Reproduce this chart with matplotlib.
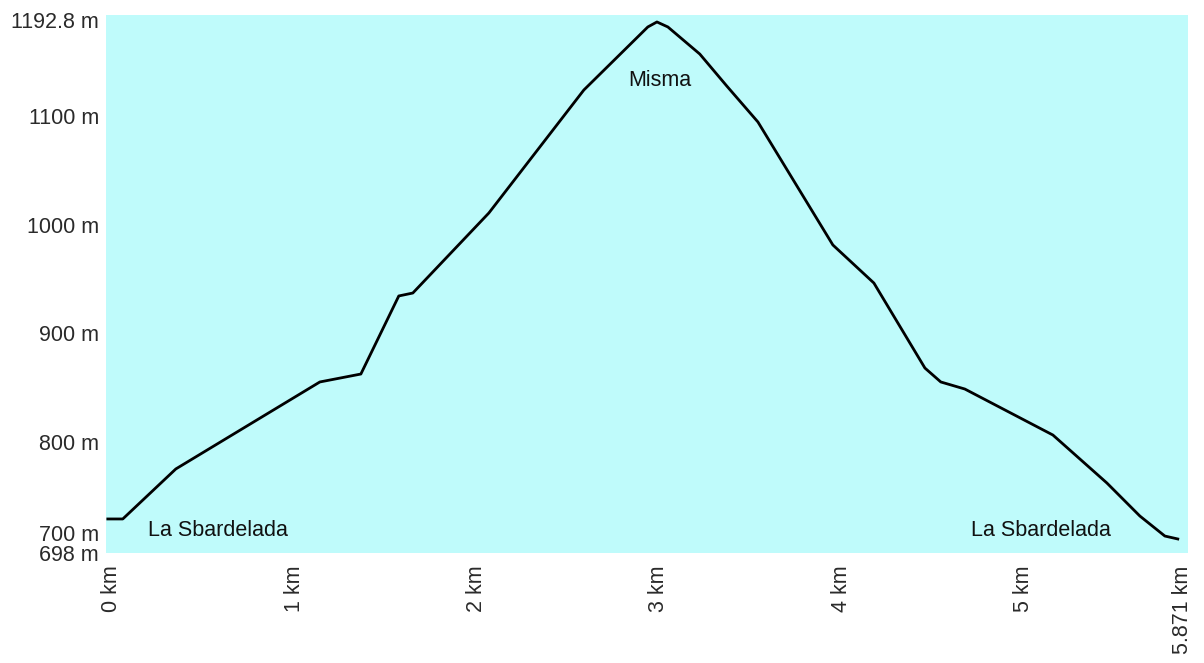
import matplotlib.pyplot as plt
import matplotlib.transforms as mtransforms

plt.rcParams["font.family"] = ["Liberation Sans", "DejaVu Sans"]

# elevation profile
dist_km = [0.0, 0.082, 0.373, 1.163, 1.388, 1.596, 1.673, 2.09, 2.611,
           2.962, 3.012, 3.072, 3.247, 3.395, 3.566, 3.977, 4.202, 4.482,
           4.569, 4.701, 5.184, 5.48, 5.661, 5.798, 5.869]
elev_m = [729.3, 729.3, 775.3, 855.3, 862.6, 934.4, 937.1, 1010.7, 1123.8,
          1181.8, 1186.4, 1181.8, 1156.9, 1127.5, 1094.4, 981.3, 946.3, 868.1,
          855.3, 848.8, 806.5, 762.4, 732.0, 713.6, 710.9]

y_ticks = [698, 700, 800, 900, 1000, 1100, 1192.8]
y_labels = ["698 m", "700 m", "800 m", "900 m", "1000 m", "1100 m", "1192.8 m"]
x_ticks = [0, 1, 2, 3, 4, 5, 5.871]
x_labels = ["0 km", "1 km", "2 km", "3 km", "4 km", "5 km", "5.871 km"]

places = ["La Sbardelada", "Misma", "La Sbardelada"]
place_x = [0.22, 3.03, 5.12]
place_y = [719, 1133, 719]
place_ha = ["left", "center", "center"]

fig = plt.figure(figsize=(12.04, 6.63), dpi=100)
ax = fig.add_axes([106 / 1204, 1 - 553 / 663, (1188 - 106) / 1204, (553 - 15) / 663])
ax.set_facecolor("#bffbfb")

ax.plot(dist_km, elev_m, color="black", lw=2.0, solid_joinstyle="round")

for name, px, py, ha in zip(places, place_x, place_y, place_ha):
    ax.text(px, py, name, ha=ha, va="center", fontsize=15.5, color="#111111")

ax.set_xlim(-0.01, 5.925)
ax.set_ylim(698, 1192.8)

ax.set_yticks(y_ticks)
ax.set_yticklabels(y_labels, fontsize=15.5, color="#2a2a2a")
ax.set_xticks(x_ticks)
ax.set_xticklabels(x_labels, rotation=90, fontsize=15.5, color="#2a2a2a")
ax.tick_params(axis="y", length=0, pad=5)
ax.tick_params(axis="x", length=0, pad=9)

# nudge the crowded labels apart like the original
def shift(lbl, dx, dy):
    lbl.set_transform(lbl.get_transform() +
                      mtransforms.ScaledTranslation(dx / 100, dy / 100, fig.dpi_scale_trans))

ylbls = ax.get_yticklabels()
shift(ylbls[0], 0, 0)
shift(ylbls[1], 0, 18)
shift(ylbls[-1], 0, -5)
for lbl in ax.get_xticklabels():
    shift(lbl, 4, 0)

for s in ax.spines.values():
    s.set_visible(False)

fig.savefig("out.png", dpi=100)
